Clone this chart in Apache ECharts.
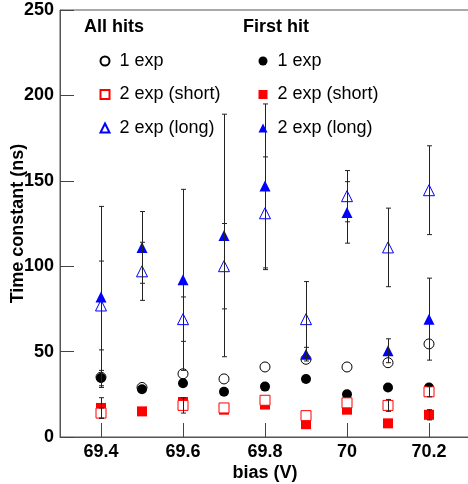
<!DOCTYPE html>
<html>
<head>
    <meta charset="UTF-8">
    <title>Time constant vs bias</title>
    <script src="https://cdn.jsdelivr.net/npm/echarts@6/dist/echarts.min.js"></script>
    <style>
        html, body { margin: 0; padding: 0; background: #fff; }
    </style>
</head>
<body>
    <div id="main" style="width: 468px; height: 484px;"></div>
    <script type="text/javascript">
        // bias values (V)
        let bias = [69.4, 69.5, 69.6, 69.7, 69.8, 69.9, 70.0, 70.1, 70.2];
        let xTicks = [69.4, 69.6, 69.8, 70.0, 70.2];

        // All hits (open symbols)
        let allOne = [35, 29, 37, 34, 41, 45.5, 41, 43.5, 54.5];
        let allOneErr = [0, 0, 0, 0, 0, 0, 0, 0, 0];
        let allShort = [14, null, 18.5, 17, 21.5, 12.5, 20, 18.5, 26.5];
        let allShortErr = [3, 0, 4.5, 0, 0, 0, 0, 3.5, 3];
        let allLong = [77, 97, 69, 100, 131, 69, 141, 111, 144.5];
        let allLongErr = [26, 17, 13, 25, 33, 22, 15, 23, 26];

        // First hit (filled symbols)
        let firstOne = [34.5, 28, 31.5, 26.5, 29.5, 34, 25, 29, 29];
        let firstOneErr = [4.5, 0, 0, 0, 0, 0, 0, 0, 0];
        let firstShort = [17, 15, 20.5, 16, 19, 7.5, 16, 8, 13];
        let firstShortErr = [6, 0, 0, 0, 0, 0, 0, 0, 3];
        let firstLong = [82, 111, 92, 118, 147, 48.5, 131.5, 50.5, 69];
        let firstLongErr = [53, 21, 53, 71, 48, 4, 18, 7, 24];

        let legendNames = {
            'a1': '1 exp', 'a2': '2 exp (short)', 'a3': '2 exp (long)',
            'f1': '1 exp', 'f2': '2 exp (short)', 'f3': '2 exp (long)'
        };

        const font = 'Liberation Sans, Arial, Helvetica, sans-serif';

        function points(vals) {
            let out = [];
            vals.forEach((v, i) => { if (v !== null) out.push([bias[i], v]); });
            return out;
        }

        function bars(vals, errs) {
            let out = [];
            vals.forEach((v, i) => {
                if (v !== null && errs[i] > 0) out.push([bias[i], v - errs[i], v + errs[i]]);
            });
            return out;
        }

        let errData = [].concat(
            bars(allOne, allOneErr), bars(firstOne, firstOneErr),
            bars(allShort, allShortErr), bars(firstShort, firstShortErr),
            bars(allLong, allLongErr), bars(firstLong, firstLongErr)
        );

        function renderErr(params, api) {
            let top = api.coord([api.value(0), api.value(2)]);
            let bot = api.coord([api.value(0), api.value(1)]);
            let x = Math.round(top[0]) + 0.5;
            let w = 2.5;
            let st = { stroke: '#222', lineWidth: 1 };
            return {
                type: 'group',
                children: [
                    { type: 'line', shape: { x1: x, y1: top[1], x2: x, y2: bot[1] }, style: st },
                    { type: 'line', shape: { x1: x - w, y1: top[1], x2: x + w, y2: top[1] }, style: st },
                    { type: 'line', shape: { x1: x - w, y1: bot[1], x2: x + w, y2: bot[1] }, style: st }
                ]
            };
        }

        let chart = echarts.init(document.getElementById('main'));

        let legendCommon = {
            orient: 'vertical',
            top: 47,
            itemWidth: 9,
            itemHeight: 9,
            itemGap: 15.5,
            formatter: name => legendNames[name],
            textStyle: { fontFamily: font, fontSize: 18, color: '#000', lineHeight: 18, padding: [0, 0, 0, 5] },
            selectedMode: false
        };

        let option = {
            animation: false,
            backgroundColor: '#fff',
            textStyle: { fontFamily: font },
            grid: {
                left: 60, right: -2, top: 10, bottom: 47,
                outerBoundsMode: 'none',
                containLabel: false,
                show: true, borderColor: '#555', borderWidth: 1
            },
            graphic: [
                { type: 'text', left: 84, top: 18,
                  style: { text: 'All hits', font: 'bold 18px ' + font, fill: '#000' } },
                { type: 'text', left: 243, top: 18,
                  style: { text: 'First hit', font: 'bold 18px ' + font, fill: '#000' } }
            ],
            legend: [
                Object.assign({}, legendCommon, { left: 94.5, data: ['a1', 'a2', 'a3'] }),
                Object.assign({}, legendCommon, { left: 253.5, data: ['f1', 'f2', 'f3'] })
            ],
            xAxis: {
                type: 'value',
                min: 69.3,
                max: 70.3,
                name: 'bias (V)',
                nameLocation: 'middle',
                nameGap: 27,
                nameMoveOverlap: false,
                nameTextStyle: { fontFamily: font, fontSize: 18, fontWeight: 'bold', color: '#000' },
                axisLine: { lineStyle: { color: '#555', width: 1 } },
                axisTick: { inside: true, length: 14, customValues: xTicks, lineStyle: { color: '#444' } },
                axisLabel: {
                    customValues: xTicks,
                    formatter: v => String(+v.toFixed(1)),
                    fontFamily: font, fontSize: 18, fontWeight: 'bold', color: '#000', margin: 6
                },
                splitLine: { show: false }
            },
            yAxis: {
                type: 'value',
                min: 0,
                max: 250,
                interval: 50,
                name: 'Time constant (ns)',
                nameLocation: 'middle',
                nameGap: 33,
                nameMoveOverlap: false,
                nameTextStyle: { fontFamily: font, fontSize: 18, fontWeight: 'bold', color: '#000' },
                axisLine: { show: true, lineStyle: { color: '#555', width: 1 } },
                axisTick: { inside: true, length: 14, lineStyle: { color: '#444' } },
                axisLabel: { fontFamily: font, fontSize: 18, fontWeight: 'bold', color: '#000', margin: 6 },
                splitLine: { show: false }
            },
            series: [
                { name: 'a1', type: 'scatter', symbol: 'circle', symbolSize: 10,
                  itemStyle: { color: '#fff', borderColor: '#000', borderWidth: 1, opacity: 1 },
                  data: points(allOne), z: 2 },
                { name: 'f1', type: 'scatter', symbol: 'circle', symbolSize: 10,
                  itemStyle: { color: '#000', opacity: 1 }, data: points(firstOne), z: 2 },
                { name: 'f2', type: 'scatter', symbol: 'rect', symbolSize: 10,
                  itemStyle: { color: '#ff0000', opacity: 1 }, data: points(firstShort), z: 2 },
                { name: 'a2', type: 'scatter', symbol: 'rect', symbolSize: 10,
                  itemStyle: { color: '#fff', borderColor: '#ff0000', borderWidth: 1, opacity: 1 },
                  data: points(allShort), z: 2 },
                { name: 'a3', type: 'scatter', symbol: 'triangle', symbolSize: 11,
                  itemStyle: { color: '#fff', borderColor: '#0000ff', borderWidth: 1, opacity: 1 },
                  data: points(allLong), z: 2 },
                { name: 'f3', type: 'scatter', symbol: 'triangle', symbolSize: 11,
                  itemStyle: { color: '#0000ff', opacity: 1 }, data: points(firstLong), z: 2 },
                { type: 'custom', renderItem: renderErr, data: errData, z: 3,
                  encode: { x: 0, y: [1, 2] }, silent: true }
            ]
        };

        chart.setOption(option);
    </script>
</body>
</html>
